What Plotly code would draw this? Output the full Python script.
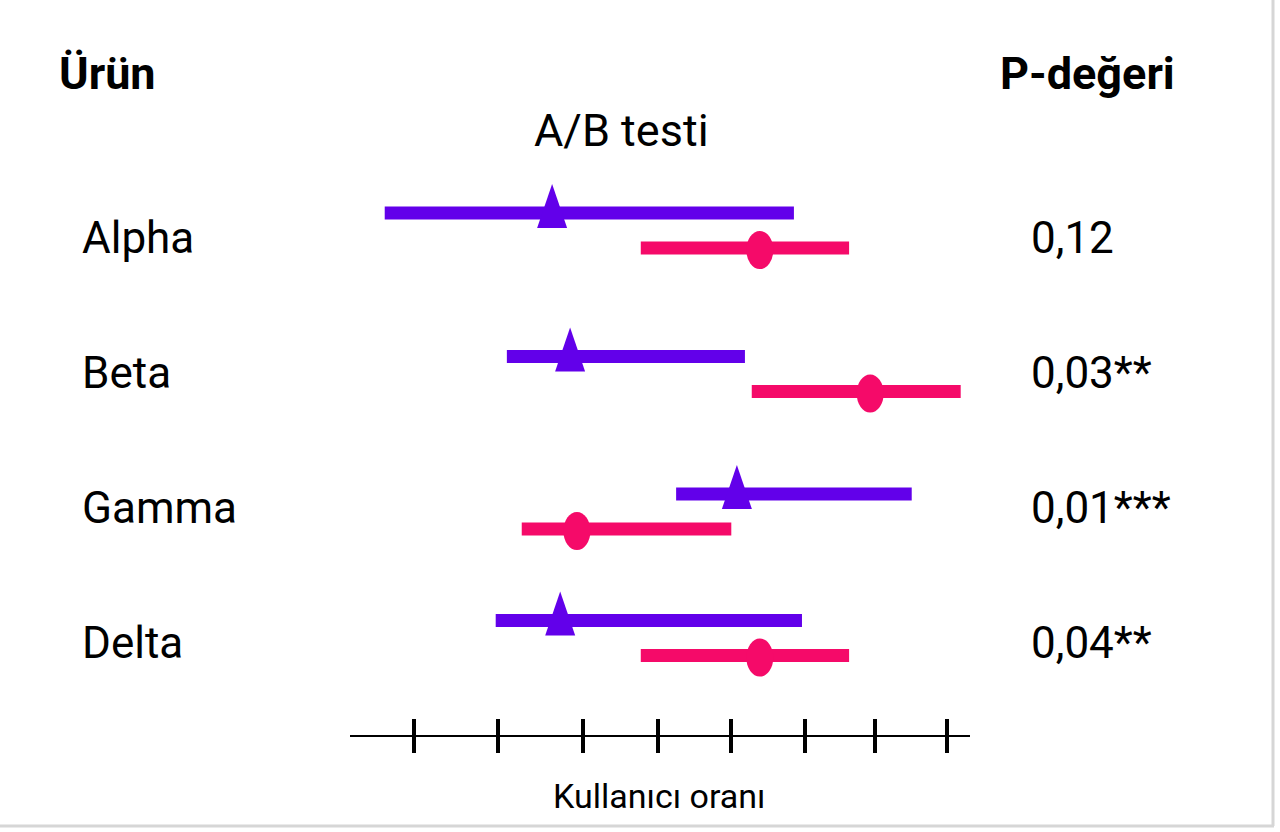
import plotly.graph_objects as go

# ---------------- data ----------------
products = ["Alpha", "Beta", "Gamma", "Delta"]
p_values = ["0,12", "0,03**", "0,01***", "0,04**"]

# group A (purple, triangle)
a_est = [3.26, 3.55, 6.24, 3.39]
a_lo = [0.56, 2.53, 5.26, 2.35]
a_hi = [7.16, 6.37, 9.06, 7.29]

# group B (pink, circle)
b_est = [6.61, 8.39, 3.66, 6.61]
b_lo = [4.69, 6.48, 2.77, 4.69]
b_hi = [8.05, 9.85, 6.15, 8.05]

tick_vals = [1.03, 2.39, 3.76, 4.97, 6.15, 7.34, 8.47, 9.63]

x_title = "Kullanıcı oranı"
plot_title = "A/B testi"
left_header = "Ürün"
right_header = "P-değeri"

# ---------------- styling / layout ----------------
W, H = 1280, 832
L, R = 350, 970          # plot area in px
T, B = 160, 735
PURPLE = "#6200EA"
PINK = "#F50A69"
FONT = "Roboto"
ROW_POS = [0.0, 1.063, 2.081, 3.019]   # vertical row centres (layout)
OFF_A, OFF_B = -0.13, 0.13
LABEL_OFF = 0.056
PX_PER_ROW = 135.0
ROW0_PX = 230.5

def px_x(px):
    return (px - L) / (R - L)

def px_y(py):
    return (B - py) / (B - T)

rows = list(range(len(products)))

fig = go.Figure()

def seg_trace(lo, hi, off, color, name):
    xs, ys = [], []
    for i, (l, h) in enumerate(zip(lo, hi)):
        xs += [l, h, None]
        ys += [ROW_POS[i] + off, ROW_POS[i] + off, None]
    return go.Scatter(x=xs, y=ys, mode="lines", name=name,
                      line=dict(color=color, width=13),
                      hoverinfo="skip", showlegend=False)

fig.add_trace(seg_trace(a_lo, a_hi, OFF_A, PURPLE, "A"))
fig.add_trace(seg_trace(b_lo, b_hi, OFF_B, PINK, "B"))
# invisible trace for the overlay axis (upper half of tick marks)
fig.add_trace(go.Scatter(x=[tick_vals[0]], y=[0], xaxis="x2", mode="markers",
                         marker=dict(opacity=0), hoverinfo="skip", showlegend=False))

shapes = []
for i in rows:
    shapes.append(dict(type="path", xref="x", yref="y",
                       xsizemode="pixel", ysizemode="pixel",
                       xanchor=a_est[i], yanchor=ROW_POS[i] + OFF_A,
                       path="M-15,-15 L15,-15 L0,29 Z",
                       fillcolor=PURPLE, line=dict(width=0)))
    shapes.append(dict(type="circle", xref="x", yref="y",
                       xsizemode="pixel", ysizemode="pixel",
                       xanchor=b_est[i], yanchor=ROW_POS[i] + OFF_B,
                       x0=-13.5, x1=13.5, y0=-21, y1=17,
                       fillcolor=PINK, line=dict(width=0)))

# card shadow edges
shapes.append(dict(type="line", xref="paper", yref="paper",
                   x0=px_x(1273), x1=px_x(1273), y0=px_y(0), y1=px_y(826),
                   line=dict(color="#d6d6d6", width=3)))
shapes.append(dict(type="line", xref="paper", yref="paper",
                   x0=px_x(0), x1=px_x(1274), y0=px_y(826), y1=px_y(826),
                   line=dict(color="#d6d6d6", width=3)))

annotations = []
for i in rows:
    annotations.append(dict(text=products[i], xref="paper", yref="y",
                            x=px_x(80), y=i + LABEL_OFF, xanchor="left", yanchor="middle",
                            showarrow=False, font=dict(family=FONT, size=44, color="#000")))
    annotations.append(dict(text=p_values[i], xref="paper", yref="y",
                            x=px_x(1029), y=i + LABEL_OFF, xanchor="left", yanchor="middle",
                            showarrow=False, font=dict(family=FONT, size=44, color="#000")))

annotations.append(dict(text="<b>" + left_header + "</b>", xref="paper", yref="paper",
                        x=px_x(57), y=px_y(73), xanchor="left", yanchor="middle",
                        showarrow=False, font=dict(family=FONT, size=45, color="#000")))
annotations.append(dict(text="<b>" + right_header + "</b>", xref="paper", yref="paper",
                        x=px_x(998), y=px_y(73), xanchor="left", yanchor="middle",
                        showarrow=False, font=dict(family=FONT, size=45, color="#000")))
annotations.append(dict(text=plot_title, xref="paper", yref="paper",
                        x=px_x(621), y=px_y(131), xanchor="center", yanchor="middle",
                        showarrow=False, font=dict(family=FONT, size=45, color="#000")))
annotations.append(dict(text=x_title, xref="paper", yref="paper",
                        x=px_x(659), y=px_y(796), xanchor="center", yanchor="middle",
                        showarrow=False, font=dict(family=FONT, size=34, color="#000")))

row_top = 0 - (ROW0_PX - T) / PX_PER_ROW
row_bot = (B - ROW0_PX) / PX_PER_ROW

fig.update_layout(
    width=W, height=H,
    margin=dict(l=L, r=W - R, t=T, b=H - B, pad=0),
    paper_bgcolor="white", plot_bgcolor="white",
    showlegend=False,
    xaxis=dict(range=[0, 10], showgrid=False, zeroline=False,
               showline=True, linecolor="black", linewidth=2,
               ticks="outside", ticklen=16, tickwidth=4, tickcolor="black",
               tickvals=tick_vals, showticklabels=False, fixedrange=True),
    xaxis2=dict(range=[0, 10], overlaying="x", anchor="y", side="bottom",
                showgrid=False, zeroline=False, showline=False,
                ticks="inside", ticklen=16, tickwidth=4, tickcolor="black",
                tickvals=tick_vals, showticklabels=False, fixedrange=True),
    yaxis=dict(range=[row_bot, row_top], showgrid=False, zeroline=False,
               showline=False, showticklabels=False, ticks="", fixedrange=True),
    shapes=shapes,
    annotations=annotations,
)

fig.write_html("out.html", config={"displayModeBar": False})
